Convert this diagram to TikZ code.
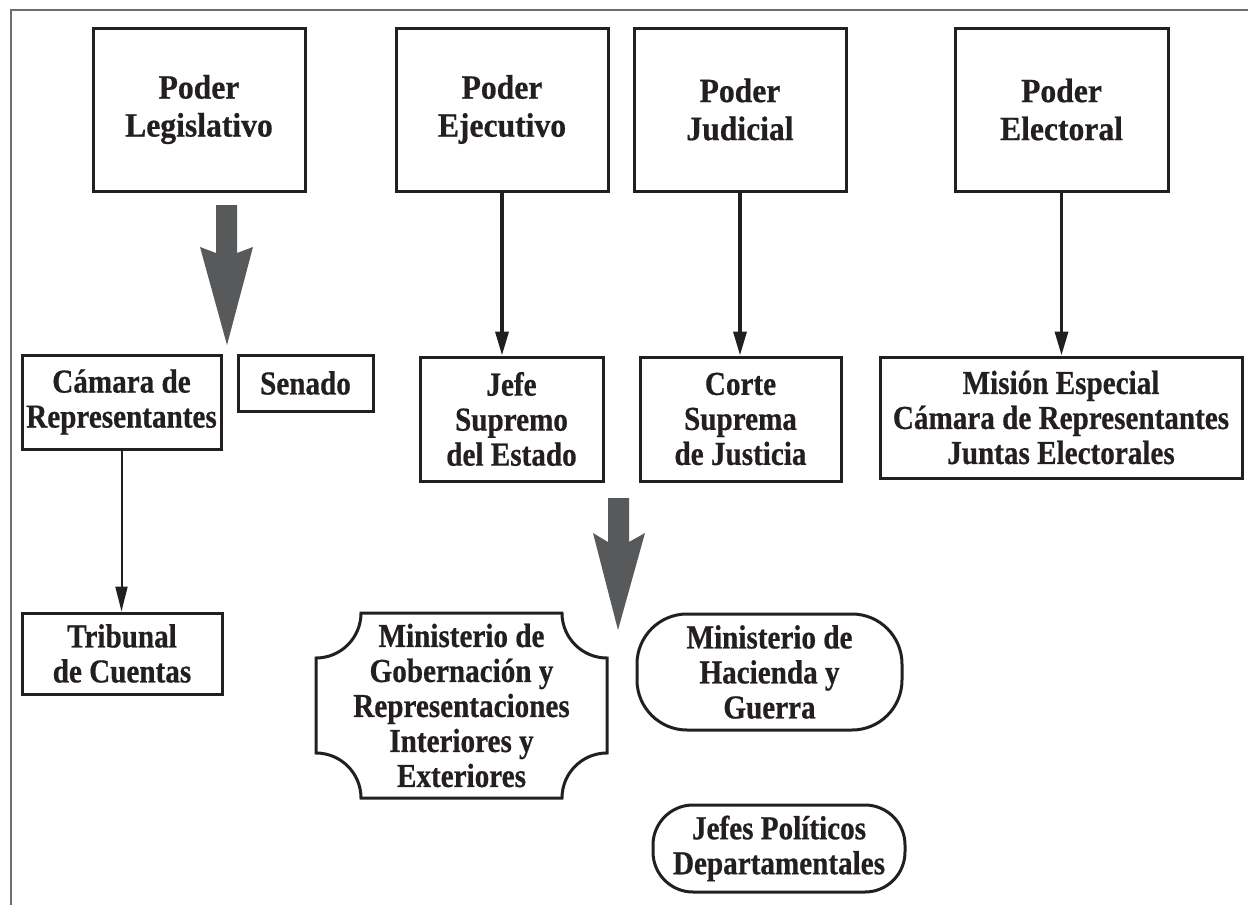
\documentclass[tikz,border=0pt]{standalone}
\usepackage{fontspec}
\setmainfont{Liberation Serif}
\newfontfamily\hdrfont[FakeStretch=0.93,BoldFeatures={FakeBold=0.6}]{Liberation Serif}
\newfontfamily\bodyfont[FakeStretch=0.87,BoldFeatures={FakeBold=0.6}]{Liberation Serif}
\usetikzlibrary{arrows.meta}
\definecolor{ink}{HTML}{231F20}
\definecolor{bigarr}{HTML}{58595B}
\definecolor{framec}{HTML}{6D6E70}
\begin{document}
\begin{tikzpicture}[x=1pt,y=-1pt,
  hdr/.style={draw=ink, text=ink, line width=3pt, minimum height=163pt, align=center,
    font=\hdrfont\bfseries\fontsize{34}{38}\selectfont, inner sep=0pt},
  boxn/.style={draw=ink, text=ink, line width=3pt, align=center,
    font=\bodyfont\bfseries\fontsize{33.5}{35}\selectfont, inner sep=0pt},
  conn/.style={draw=ink, line width=3.5pt, -{Triangle[length=24pt,width=13pt]}},
  thinconn/.style={draw=ink, line width=2pt, -{Triangle[length=25pt,width=12pt]}},
  bigarrow/.style={fill=bigarr},
  framel/.style={draw=framec, line width=2pt}]
\useasboundingbox (0,0) rectangle (1248,905);
\fill[white] (0,0) rectangle (1248,905);
% frame
\draw[framel] (1248,10) -- (11,10) -- (11,905);
% header boxes
\node[hdr, minimum width=212pt] (leg) at (199,109.5) {Poder\\Legislativo};
\node[hdr, minimum width=212pt] (eje) at (502,109.5) {Poder\\Ejecutivo};
\node[hdr, minimum width=212pt] (jud) at (740,109.5) {Poder\\Judicial};
\node[hdr, minimum width=213pt] (ele) at (1061.5,109.5) {Poder\\Electoral};
% second row
\node[boxn, minimum width=199pt, minimum height=94pt] (cam) at (121.5,402) {Cámara de\\Representantes};
\node[boxn, minimum width=135pt, minimum height=56pt] (sen) at (305.5,383) {Senado};
\node[boxn, minimum width=183pt, minimum height=124pt] (jefe) at (511.5,419) {Jefe\\Supremo\\del Estado};
\node[boxn, minimum width=201pt, minimum height=124pt] (corte) at (740.5,419) {Corte\\Suprema\\de Justicia};
\node[boxn, minimum width=362pt, minimum height=121pt] (mis) at (1061,417.5) {Misión Especial\\Cámara de Representantes\\Juntas Electorales};
% third row
\node[boxn, minimum width=200pt, minimum height=81pt] (tri) at (122,653.5) {Tribunal\\de Cuentas};
\node[boxn, draw=none] (gob) at (461.5,705.5) {Ministerio de\\Gobernación y\\Representaciones\\Interiores y\\Exteriores};
\draw[draw=ink, line width=3pt] (316,658) .. controls (340.85,658) and (361,637.85) .. (361,613)
  -- (562,613) .. controls (562,637.85) and (582.15,658) .. (607,658)
  -- (607,753) .. controls (582.15,753) and (562,773.15) .. (562,798)
  -- (361,798) .. controls (361,773.15) and (340.85,753) .. (316,753) -- cycle;
\node[boxn, rounded corners=50pt, minimum width=265pt, minimum height=116pt] (hac) at (769.5,672) {Ministerio de\\Hacienda y\\Guerra};
\node[boxn, rounded corners=40pt, minimum width=252pt, minimum height=87pt] (jp) at (779,848.5) {Jefes Políticos\\Departamentales};
% connectors
\draw[conn] (eje.south) -- (eje.south |- jefe.north);
\draw[conn] (jud.south) -- (jud.south |- corte.north);
\draw[conn] (ele.south) -- (ele.south |- mis.north);
\draw[thinconn] (cam.south) -- (cam.south |- tri.north);
% big arrows
\fill[bigarrow] (216,205) -- (237,205) -- (237,253) -- (253,247) -- (227,345) -- (200,247) -- (216,253) -- cycle;
\fill[bigarrow] (608,498) -- (629,498) -- (629,542) -- (645,533) -- (618,630) -- (593,533) -- (608,542) -- cycle;
\end{tikzpicture}
\end{document}
